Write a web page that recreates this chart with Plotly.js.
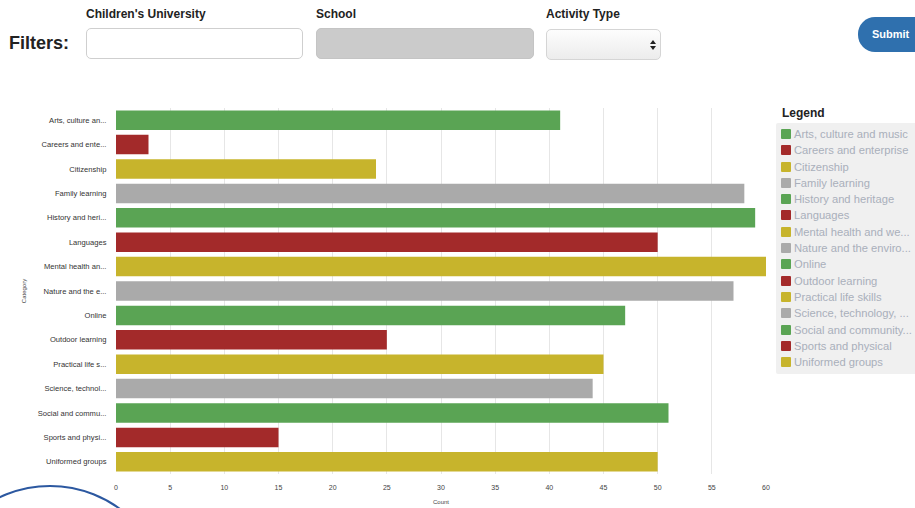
<!DOCTYPE html>
<html><head><meta charset="utf-8">
<script src="https://cdn.plot.ly/plotly-3.0.1.min.js"></script>
<style>
body{margin:0;width:915px;height:508px;overflow:hidden;font-family:"Liberation Sans",Arial,sans-serif;background:#fff;position:relative}
#chart{position:absolute;left:0;top:0;width:915px;height:508px}
.lbl{position:absolute;font-weight:bold;font-size:12px;color:#222;top:7px}
.box{position:absolute;top:28px;height:31px;border-radius:5px;box-sizing:border-box}
#filters{position:absolute;left:9px;top:33px;font-size:18px;font-weight:bold;color:#222}
#submit{position:absolute;left:858px;top:17px;width:57px;height:35px;border-radius:17px 0 0 17px;background:#2f70ae;color:#fff;font-size:11px;font-weight:bold;box-sizing:border-box;padding:11px 0 0 14px}
#legend{position:absolute;left:776px;top:103px;width:139px;overflow:hidden}
#legend .title{font-weight:bold;font-size:12px;color:#222;padding-left:6px;height:20px;line-height:20px}
#legend .items{background:#f0f0f0;padding:3px 0 4px 5px;border-radius:2px 0 0 2px}
#legend .item{height:16.3px;line-height:16.3px;font-size:11.2px;color:#a9afbb;white-space:nowrap}
#legend .sw{display:inline-block;width:10px;height:10px;vertical-align:-1px;margin-right:3px;border-radius:1px}
#circle{position:absolute;left:-69px;top:485px;width:238px;height:238px;border:2.5px solid #2c58a0;border-radius:50%;box-sizing:border-box}
</style></head><body>
<div id="chart"></div>
<div id="filters">Filters:</div>
<div class="lbl" style="left:86px">Children's University</div>
<div class="box" style="left:86px;width:217px;border:1px solid #cfcfcf;background:#fff"></div>
<div class="lbl" style="left:316px">School</div>
<div class="box" style="left:316px;width:218px;background:#cbcbcb;border:1px solid #c4c4c4"></div>
<div class="lbl" style="left:546px">Activity Type</div>
<div class="box" style="left:546px;top:29px;width:115px;border:1px solid #d5d5d5;background:linear-gradient(#fdfdfd,#ececec)"><svg style="position:absolute;right:4px;top:10px" width="6" height="10"><path d="M0,4 L3,0 L6,4 Z M0,6 L3,10 L6,6 Z" fill="#222"/></svg></div>
<div id="submit">Submit</div>
<div id="legend"><div class="title">Legend</div><div class="items" id="items"></div></div>
<div id="circle"></div>
<script>
const categories = ["Arts, culture and music","Careers and enterprise","Citizenship","Family learning","History and heritage","Languages","Mental health and wellbeing","Nature and the environment","Online","Outdoor learning","Practical life skills","Science, technology, engineering and maths","Social and community action","Sports and physical","Uniformed groups"];
const counts = [41,3,24,58,59,50,60,57,47,25,45,44,51,15,50];
const xTicks = [0,5,10,15,20,25,30,35,40,45,50,55,60];
const palette = ["#5aa454","#a32a2a","#c7b42c","#aaaaaa"];
const barColors = categories.map((c,i)=>palette[i%palette.length]);
const shortLabels = categories.map(c => c.length > 16 ? c.slice(0,16) + "..." : c);

// legend labels truncated to the available width
const ctx = document.createElement("canvas").getContext("2d");
ctx.font = "11.2px 'Liberation Sans'";
const maxW = 118;
function fitText(t){
  if (ctx.measureText(t).width <= maxW) return t;
  let s = t;
  while (s.length > 1 && ctx.measureText(s + "...").width > maxW) s = s.slice(0,-1);
  return s + "...";
}
const items = document.getElementById("items");
categories.forEach((c,i)=>{
  const d = document.createElement("div");
  d.className = "item";
  const sw = document.createElement("span");
  sw.className = "sw"; sw.style.background = barColors[i];
  d.appendChild(sw);
  d.appendChild(document.createTextNode(fitText(c)));
  items.appendChild(d);
});

const trace = {
  type: "bar", orientation: "h",
  x: counts, y: categories,
  marker: {color: barColors, line: {width: 0}},
  hoverinfo: "x+y"
};
const layout = {
  width: 915, height: 508,
  margin: {l:116, r:149, t:108, b:34},
  paper_bgcolor: "rgba(0,0,0,0)", plot_bgcolor: "rgba(0,0,0,0)",
  bargap: 0.2,
  showlegend: false,
  font: {family: "Liberation Sans, Arial, sans-serif", color: "#333"},
  xaxis: {range:[0,60], tickvals: xTicks, ticktext: xTicks.map(String), showgrid:true, gridcolor:"#e6e6e6", gridwidth:1, zeroline:false, showline:false,
          ticks:"outside", ticklen:7, tickcolor:"rgba(0,0,0,0)", tickfont:{size:7, color:"#444"},
          title:{text:"Count", font:{size:6, color:"#444"}, standoff:9}},
  yaxis: {type:"category", autorange:"reversed", tickvals: categories, ticktext: shortLabels, showgrid:false, zeroline:false, showline:false,
          ticks:"outside", ticklen:7, tickcolor:"rgba(0,0,0,0)", tickfont:{size:7.6, color:"#333"},
          title:{text:"Category", font:{size:6, color:"#444"}, standoff:10}}
};
Plotly.newPlot("chart", [trace], layout, {displayModeBar:false, staticPlot:true});
</script>
</body></html>
